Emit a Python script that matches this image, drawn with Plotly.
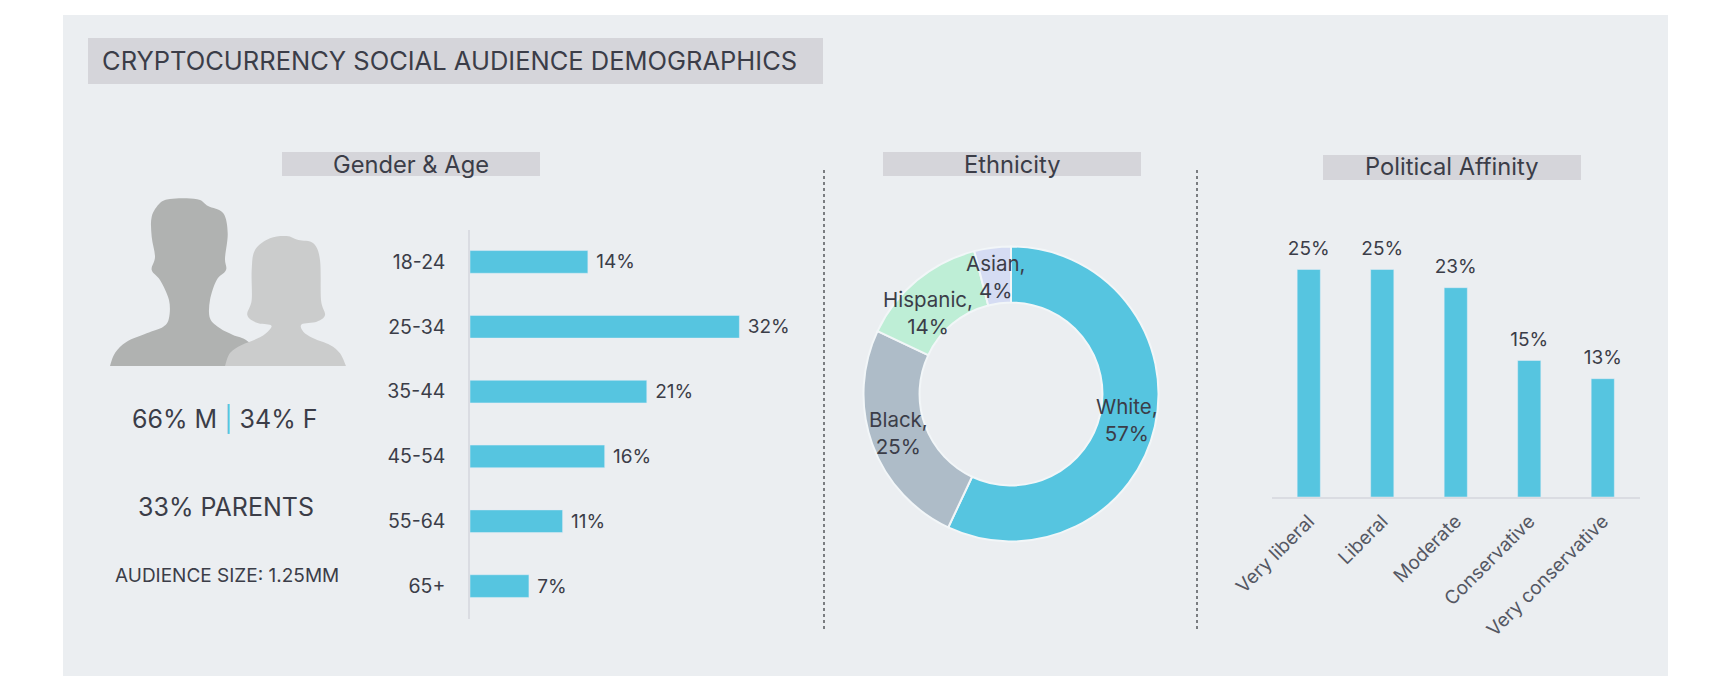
import plotly.graph_objects as go

W = 1725
H = 700

age_groups = ['18-24', '25-34', '35-44', '45-54', '55-64', '65+']
age_values = [14, 32, 21, 16, 11, 7]

ethnicity = ['White', 'Black', 'Hispanic', 'Asian']
ethnicity_values = [57, 25, 14, 4]
ethnicity_colors = ['#56C5E0', '#AEBCC8', '#BEEED6', '#D5DCF3']
# where each donut label sits, pixels on the page
ethnicity_label_pos = [(1127, 420), (898, 433), (928, 313), (996, 277)]

politics = ['Very liberal', 'Liberal', 'Moderate', 'Conservative', 'Very conservative']
politics_values = [25, 25, 23, 15, 13]

BLUE = '#56C5E0'
PANEL = '#EBEEF1'
HEADER = '#D5D5DA'
INK = '#3B3D48'
FONT = 'Inter'

# silhouettes, traced in page pixels
man_outline = [(110, 366), (115, 353), (126.7, 341.7), (146.7, 333.3), (163.3, 326.7), (169, 318),
               (169, 300), (160, 280), (151.7, 270), (155, 256.7), (151.7, 236.7), (151.7, 216.7),
               (160, 203), (170, 199), (186.7, 198.3), (200, 200), (208, 206), (223.3, 213.3),
               (227.7, 233.3), (225, 258.3), (226, 270), (216.7, 280), (210, 300), (210, 318.3),
               (220, 328.3), (233, 335), (248.3, 341.7), (270, 366)]
woman_outline = [(225, 366), (230, 353), (241.7, 345), (260, 337.3), (269.3, 330), (270.7, 325),
                 (256.7, 322.7), (247.3, 315), (251.7, 300), (251.7, 270), (255, 250), (270, 238.3),
                 (286.7, 236), (298.3, 240), (313.3, 243.3), (320, 260), (321, 300), (325, 315),
                 (316.7, 321.7), (301.7, 324.3), (303.3, 331.7), (313.3, 338.3), (330, 345),
                 (340, 353.3), (346, 366)]


def px(x):
    return x / W


def py(y):
    return 1 - y / H


def smooth_path(points):
    """Closed Catmull-Rom path through every point of an outline, in paper coordinates."""
    pts = [(px(x), py(y)) for x, y in points]
    path = 'M {:.5f},{:.5f}'.format(*pts[0])
    for i in range(len(pts) - 1):
        p0 = pts[max(i - 1, 0)]
        p1 = pts[i]
        p2 = pts[i + 1]
        p3 = pts[min(i + 2, len(pts) - 1)]
        c1 = (p1[0] + (p2[0] - p0[0]) / 6, p1[1] + (p2[1] - p0[1]) / 6)
        c2 = (p2[0] - (p3[0] - p1[0]) / 6, p2[1] - (p3[1] - p1[1]) / 6)
        path += ' C {:.5f},{:.5f} {:.5f},{:.5f} {:.5f},{:.5f}'.format(c1[0], c1[1], c2[0], c2[1], p2[0], p2[1])
    return path + ' Z'


def rect(x0, y0, x1, y1, color):
    return dict(type='rect', xref='paper', yref='paper', x0=px(x0), x1=px(x1), y0=py(y0), y1=py(y1),
                fillcolor=color, line_width=0, layer='below')


def label(x, y, text, size, xanchor='center'):
    return dict(x=px(x), y=py(y), xref='paper', yref='paper', text=text, showarrow=False,
                xanchor=xanchor, yanchor='middle', font=dict(family=FONT, size=size, color=INK))


def vline(x, y0, y1):
    return dict(type='line', xref='paper', yref='paper', x0=px(x), x1=px(x), y0=py(y0), y1=py(y1),
                line=dict(color='#55585C', width=1.5, dash='dot'), layer='below')


fig = go.Figure()

fig.add_trace(go.Bar(x=age_values, y=age_groups, orientation='h', marker_color=BLUE,
                     width=0.35, text=['\u00a0{}%'.format(v) for v in age_values], textposition='outside',
                     textfont=dict(family=FONT, size=19, color=INK), cliponaxis=False,
                     constraintext='none', xaxis='x', yaxis='y'))

fig.add_trace(go.Pie(labels=ethnicity, values=ethnicity_values, hole=0.62, sort=False,
                     direction='clockwise', rotation=0, textinfo='none',
                     marker=dict(colors=ethnicity_colors, line=dict(color='#F2F6F8', width=2)),
                     domain=dict(x=[px(1011 - 147.5), px(1011 + 147.5)],
                                 y=[py(394 + 147.5), py(394 - 147.5)]),
                     showlegend=False))

fig.add_trace(go.Bar(x=politics, y=politics_values, marker_color=BLUE, width=0.315,
                     xaxis='x2', yaxis='y2'))
# labels as a text trace so the gap above the bars can be set with the marker size
fig.add_trace(go.Scatter(x=politics, y=politics_values, mode='markers+text',
                         marker=dict(size=14, color='rgba(0,0,0,0)'),
                         text=['{}%'.format(v) for v in politics_values], textposition='top center',
                         textfont=dict(family=FONT, size=19, color=INK), cliponaxis=False,
                         hoverinfo='skip', xaxis='x2', yaxis='y2'))

shapes = [
    rect(63, 15, 1668, 676, PANEL),
    rect(88, 38, 823, 84, HEADER),
    rect(282, 152, 540, 176, HEADER),
    rect(883, 152, 1141, 176, HEADER),
    rect(1323, 155, 1581, 180, HEADER),
    vline(824, 170, 629),
    vline(1197, 170, 629),
    dict(type='path', xref='paper', yref='paper', path=smooth_path(man_outline),
         fillcolor='#B0B2B1', line_width=0, layer='below'),
    dict(type='path', xref='paper', yref='paper', path=smooth_path(woman_outline),
         fillcolor='#CBCCCC', line_width=0, layer='below'),
]

annotations = [
    label(100, 60, 'CRYPTOCURRENCY SOCIAL AUDIENCE DEMOGRAPHICS', 25.5, xanchor='left'),
    label(411, 164, 'Gender &amp; Age', 23.7),
    label(1012, 164, 'Ethnicity', 23.7),
    label(1452, 167, 'Political Affinity', 23.7),
    label(225, 419, '66% M <span style="color:{}">|</span> 34% F'.format(BLUE), 25),
    label(226, 507, '33% PARENTS', 25),
    label(227, 575, 'AUDIENCE SIZE: 1.25MM', 19),
]
for name, value, pos in zip(ethnicity, ethnicity_values, ethnicity_label_pos):
    annotations.append(label(pos[0], pos[1], '{},<br>{}%'.format(name, value), 20.5))

fig.update_layout(
    width=W, height=H, margin=dict(l=0, r=0, t=0, b=0),
    paper_bgcolor='white', plot_bgcolor='rgba(0,0,0,0)',
    showlegend=False, shapes=shapes, annotations=annotations,
    font=dict(family=FONT, color=INK),
    xaxis=dict(domain=[px(470), px(800)], range=[0, 39.2], visible=False, anchor='y', automargin=False),
    yaxis=dict(domain=[py(618.5), py(229.5)], categoryorder='array', categoryarray=age_groups,
               autorange='reversed', showline=True, linecolor='#DADCE2', linewidth=1.5,
               showgrid=False, zeroline=False, ticks='outside', ticklen=19, tickcolor='rgba(0,0,0,0)',
               tickfont=dict(family=FONT, size=19.5, color=INK), anchor='x', automargin=False),
    xaxis2=dict(domain=[px(1272), px(1639.5)], showline=True, linecolor='#DADCE2', linewidth=1.5,
                showgrid=False, zeroline=False, tickangle=-45, ticks='outside', ticklen=4,
                tickcolor='rgba(0,0,0,0)',
                tickfont=dict(family=FONT, size=19, color='#555863'), anchor='y2', automargin=False),
    yaxis2=dict(domain=[py(497), py(230)], range=[0, 29.34], visible=False, anchor='x2', automargin=False),
)

# the browser's default body margin would shift everything by 8px
fig.write_html("out.html", config=dict(displayModeBar=False),
               post_script="document.body.style.margin='0';")
